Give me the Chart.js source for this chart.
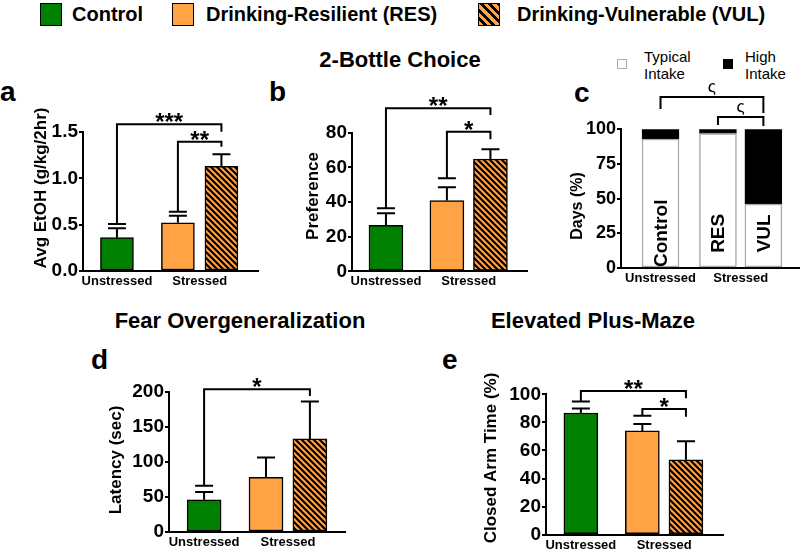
<!DOCTYPE html>
<html>
<head>
<meta charset="utf-8">
<script src="https://cdn.jsdelivr.net/npm/chart.js@4.4.1/dist/chart.umd.min.js"></script>
<style>
  body { margin: 0; background: #fff; font-family: "Liberation Sans", Arial, Helvetica, sans-serif; color: #000; }
  #page { position: relative; width: 800px; height: 556px; overflow: hidden; }
  canvas { position: absolute; }
  .key { position: absolute; top: 3px; width: 22px; height: 23px; border: 1.5px solid #000; box-sizing: border-box; }
  .keytxt { position: absolute; top: 4px; font-weight: bold; font-size: 20px; line-height: 20px; white-space: nowrap; }
  .title { position: absolute; font-weight: bold; font-size: 22px; line-height: 22px; white-space: nowrap; transform: translateX(-50%); }
  .letter { position: absolute; font-weight: bold; font-size: 28px; line-height: 28px; }
  .ckey { position: absolute; top: 59px; width: 10px; height: 10px; box-sizing: border-box; }
  .ctxt { position: absolute; top: 48px; font-size: 15px; line-height: 17px; }
</style>
</head>
<body>
<div id="page">
  <div class="key" style="left:40px;background:#008000"></div>
  <div class="keytxt" style="left:72px">Control</div>
  <div class="key" style="left:172px;background:#FFA345"></div>
  <div class="keytxt" style="left:206px">Drinking-Resilient (RES)</div>
  <div class="key" style="left:478px;background:repeating-linear-gradient(45deg,#FFA345 0 3px,#000 3px 6px)"></div>
  <div class="keytxt" style="left:517px">Drinking-Vulnerable (VUL)</div>

  <div class="title" style="left:400px;top:49px">2-Bottle Choice</div>
  <div class="title" style="left:240px;top:310px">Fear Overgeneralization</div>
  <div class="title" style="left:593px;top:310px">Elevated Plus-Maze</div>

  <div class="letter" style="left:0px;top:78px">a</div>
  <div class="letter" style="left:269px;top:78px">b</div>
  <div class="letter" style="left:574px;top:79px">c</div>
  <div class="letter" style="left:91px;top:346px">d</div>
  <div class="letter" style="left:442px;top:346px">e</div>

  <div class="ckey" style="left:617px;border:1.5px solid #aaa;background:#fff"></div>
  <div class="ctxt" style="left:644px">Typical<br>Intake</div>
  <div class="ckey" style="left:723px;background:#000"></div>
  <div class="ctxt" style="left:745px">High<br>Intake</div>

  <canvas id="ca"></canvas>
  <canvas id="cb"></canvas>
  <canvas id="cc"></canvas>
  <canvas id="cd"></canvas>
  <canvas id="ce"></canvas>
</div>

<script>
// ---- data ----
const GROUPS = ["Unstressed", "Stressed"];
const SHORT = ["Control", "RES", "VUL"];

// a: 2-bottle choice, ethanol intake
const etohMean = [0.36, 0.52, 1.13];
const etohSem = [0.10, 0.075, 0.13];
const etohTicks = [0, 0.5, 1.0, 1.5];
const etohSig = [
  { from: 0, to: 2, left: 0.507, top: 1.583, right: 1.503, mark: "***" },
  { from: 1, to: 2, left: 0.64, top: 1.395, right: 1.341, mark: "**" }
];

// b: preference
const prefMean = [26.5, 40.8, 64.8];
const prefSem = [7.0, 7.7, 5.6];
const prefTicks = [0, 20, 40, 60, 80];
const prefSig = [
  { from: 0, to: 2, left: 36.4, top: 94.1, right: 90.2, mark: "**" },
  { from: 1, to: 2, left: 53.7, top: 80.6, right: 76.2, mark: "*" }
];

// c: days with typical / high intake
const typicalDays = [93, 97, 46];
const highDays = [7, 3, 54];
const dayTicks = [0, 25, 50, 75, 100];
const daySig = [
  { from: 0, to: 2, left: 114.6, top: 123.3, right: 111.8, mark: "ς" },
  { from: 1, to: 2, left: 103.1, top: 108.9, right: 102.4, mark: "ς" }
];

// d: fear overgeneralization latency
const latencyMean = [46, 78, 133];
const latencySem = [11, 28.5, 53.5];
const latencyTicks = [0, 50, 100, 150, 200];
const latencySig = [
  { from: 0, to: 2, left: 66.2, top: 203.8, right: 194.3, mark: "*" }
];

// e: elevated plus-maze
const closedMean = [86.7, 73.9, 53.4];
const closedSem = [3.1, 5.0, 13.1];
const closedTicks = [0, 20, 40, 60, 80, 100];
const closedSig = [
  { from: 0, to: 2, left: 94.8, top: 102.3, right: 97.1, mark: "**" },
  { from: 1, to: 2, left: 84.8, top: 89.5, right: 84.0, mark: "*" }
];

// ---- styling ----
const FONT = "'Liberation Sans', Arial, Helvetica, sans-serif";
const GREEN = "#008000";
const ORANGE = "#FFA345";

function hatchPattern() {
  const p = 6;
  const c = document.createElement("canvas");
  c.width = p; c.height = p;
  const g = c.getContext("2d");
  g.fillStyle = ORANGE;
  g.fillRect(0, 0, p, p);
  g.strokeStyle = "#000";
  g.lineWidth = 2.2;
  g.beginPath();
  g.moveTo(-1, -1); g.lineTo(p + 1, p + 1);
  g.moveTo(p - 2, -2); g.lineTo(p + 2, 2);
  g.moveTo(-2, p - 2); g.lineTo(2, p + 2);
  g.stroke();
  return g.createPattern(c, "repeat");
}
const HATCH = hatchPattern();

// panel placement: canvas box [left, top, w, h], plot area [left, right, top, bottom]
const PANELS = {
  a: { box: [0, 100, 262, 200], area: [83, 258, 132, 271], gap: 0.4, xmin: -0.78, xmax: 3.24, bar: 33, titleX: 41, titleY: 188, tickSize: 19, titleSize: 17 },
  b: { box: [268, 88, 264, 212], area: [352, 527, 132.7, 271.3], gap: 0.4, xmin: -0.78, xmax: 3.24, bar: 34, titleX: 313, titleY: 196, tickSize: 19, titleSize: 17 },
  c: { box: [540, 80, 260, 220], area: [621, 800, 129.3, 268], gap: 0.264, xmin: -0.87, xmax: 3.07, bar: 37, titleX: 578, titleY: 206, tickSize: 18, titleSize: 16 },
  d: { box: [90, 372, 260, 184], area: [169, 345, 392, 532], gap: 0.41, xmin: -0.8, xmax: 3.21, bar: 34, titleX: 116, titleY: 460, tickSize: 19, titleSize: 17 },
  e: { box: [470, 372, 258, 184], area: [546, 723, 394.3, 534.7], gap: 0.41, xmin: -0.8, xmax: 3.26, bar: 34, titleX: 491, titleY: 458, tickSize: 19, titleSize: 17 }
};

// error bars, significance brackets, group labels, y title, labels inside bars
function annotations(panel, spec, xs) {
  return {
    id: "annot",
    afterDatasetsDraw(chart) {
      const ctx = chart.ctx;
      const sx = chart.scales.x, sy = chart.scales.y;
      const X = i => sx.getPixelForValue(xs[i]);
      const Y = v => sy.getPixelForValue(v);
      ctx.save();
      ctx.strokeStyle = "#000";
      ctx.fillStyle = "#000";
      ctx.lineWidth = 2;
      ctx.lineJoin = "miter";

      if (spec.mean) {
        spec.mean.forEach((m, i) => {
          const px = X(i), top = Y(m + spec.sem[i]);
          ctx.beginPath();
          ctx.moveTo(px, Y(m)); ctx.lineTo(px, top);
          ctx.moveTo(px - 9, top); ctx.lineTo(px + 9, top);
          ctx.stroke();
        });
      }

      spec.sig.forEach(b => {
        const x1 = X(b.from), x2 = X(b.to), yt = Y(b.top);
        ctx.beginPath();
        if (spec.tick) {
          ctx.moveTo(x1 - 9, Y(b.left)); ctx.lineTo(x1 + 9, Y(b.left));
        }
        ctx.moveTo(x1, Y(b.left));
        ctx.lineTo(x1, yt);
        ctx.lineTo(x2, yt);
        ctx.lineTo(x2, Y(b.right));
        ctx.stroke();
        ctx.font = spec.markFont;
        ctx.textAlign = "center";
        ctx.textBaseline = "alphabetic";
        ctx.fillText(b.mark, (x1 + x2) / 2, yt + spec.markDy);
      });

      if (spec.inBar) {
        ctx.font = "bold 19px " + FONT;
        ctx.textAlign = "center";
        ctx.textBaseline = "middle";
        spec.inBar.forEach((t, i) => {
          ctx.save();
          ctx.translate(X(i), Y(25));
          ctx.rotate(-Math.PI / 2);
          ctx.fillText(t, 0, 1);
          ctx.restore();
        });
      }

      // group labels under the x axis
      ctx.font = "bold 13px " + FONT;
      ctx.textAlign = "center";
      ctx.textBaseline = "top";
      const base = chart.chartArea.bottom + 4;
      ctx.fillText(GROUPS[0], X(0), base);
      ctx.fillText(GROUPS[1], (X(1) + X(2)) / 2, base);

      // y axis title
      ctx.font = "bold " + panel.titleSize + "px " + FONT;
      ctx.textBaseline = "middle";
      ctx.translate(panel.titleX - panel.box[0], panel.titleY - panel.box[1]);
      ctx.rotate(-Math.PI / 2);
      ctx.fillText(spec.ylabel, 0, 0);
      ctx.restore();
    }
  };
}

function makeChart(id, panel, spec) {
  const [L, T, W, H] = panel.box;
  const [aL, aR, aT, aB] = panel.area;
  const cv = document.getElementById(id);
  cv.style.left = L + "px";
  cv.style.top = T + "px";
  cv.width = W;
  cv.height = H;
  const xs = [0, 1 + panel.gap, 2 + panel.gap];
  const stacked = !!spec.stacked;

  return new Chart(cv, {
    type: "bar",
    data: { datasets: spec.datasets(xs) },
    options: {
      responsive: false,
      animation: false,
      devicePixelRatio: 1,
      layout: { padding: { top: aT - T, right: L + W - aR, bottom: 0, left: 0 } },
      plugins: { legend: { display: false }, tooltip: { enabled: false } },
      scales: {
        x: {
          type: "linear",
          offset: false,
          min: panel.xmin,
          max: panel.xmax,
          stacked: stacked,
          grid: { display: false, drawTicks: false, offset: false },
          border: { display: true, color: "#000", width: 2 },
          afterFit: s => { s.height = T + H - aB; },
          ticks: { display: false }
        },
        y: {
          min: spec.ticks[0],
          max: spec.ticks[spec.ticks.length - 1],
          stacked: stacked,
          afterBuildTicks: s => { s.ticks = spec.ticks.map(v => ({ value: v })); },
          afterFit: s => { s.width = aL - L; },
          grid: { display: true, drawOnChartArea: false, drawTicks: true, tickLength: 4, color: "#000", lineWidth: 2 },
          border: { display: true, color: "#000", width: 2 },
          ticks: {
            padding: 1, color: "#000",
            font: { family: FONT, size: panel.tickSize, weight: "bold" },
            callback: spec.fmt || (v => v)
          }
        }
      }
    },
    plugins: [annotations(panel, spec, xs)]
  });
}

function meanBars(mean, xs, bar) {
  return [{
    data: xs.map((x, i) => ({ x: x, y: mean[i] })),
    backgroundColor: [GREEN, ORANGE, HATCH],
    borderColor: "#000",
    borderWidth: 1.5,
    borderSkipped: false,
    barThickness: bar
  }];
}

const ASTER = { markFont: "bold 24px " + FONT, markDy: 6, tick: true };

makeChart("ca", PANELS.a, Object.assign({
  ticks: etohTicks, mean: etohMean, sem: etohSem, sig: etohSig,
  ylabel: "Avg EtOH (g/kg/2hr)", fmt: v => v.toFixed(1),
  datasets: xs => meanBars(etohMean, xs, PANELS.a.bar)
}, ASTER));

makeChart("cb", PANELS.b, Object.assign({
  ticks: prefTicks, mean: prefMean, sem: prefSem, sig: prefSig,
  ylabel: "Preference",
  datasets: xs => meanBars(prefMean, xs, PANELS.b.bar)
}, ASTER));

makeChart("cc", PANELS.c, {
  ticks: dayTicks, sig: daySig, stacked: true,
  ylabel: "Days (%)", inBar: SHORT,
  markFont: "17px " + FONT, markDy: -5, tick: false,
  datasets: xs => [
    {
      data: xs.map((x, i) => ({ x: x, y: typicalDays[i] })),
      backgroundColor: "#fff", borderColor: "#aaa", borderWidth: 1.5,
      borderSkipped: false, barThickness: PANELS.c.bar
    },
    {
      data: xs.map((x, i) => ({ x: x, y: highDays[i] })),
      backgroundColor: "#000", borderColor: "#000", borderWidth: 1,
      borderSkipped: false, barThickness: PANELS.c.bar
    }
  ]
});

makeChart("cd", PANELS.d, Object.assign({
  ticks: latencyTicks, mean: latencyMean, sem: latencySem, sig: latencySig,
  ylabel: "Latency (sec)",
  datasets: xs => meanBars(latencyMean, xs, PANELS.d.bar)
}, ASTER));

makeChart("ce", PANELS.e, Object.assign({
  ticks: closedTicks, mean: closedMean, sem: closedSem, sig: closedSig,
  ylabel: "Closed Arm Time (%)",
  datasets: xs => meanBars(closedMean, xs, PANELS.e.bar)
}, ASTER));
</script>
</body>
</html>
